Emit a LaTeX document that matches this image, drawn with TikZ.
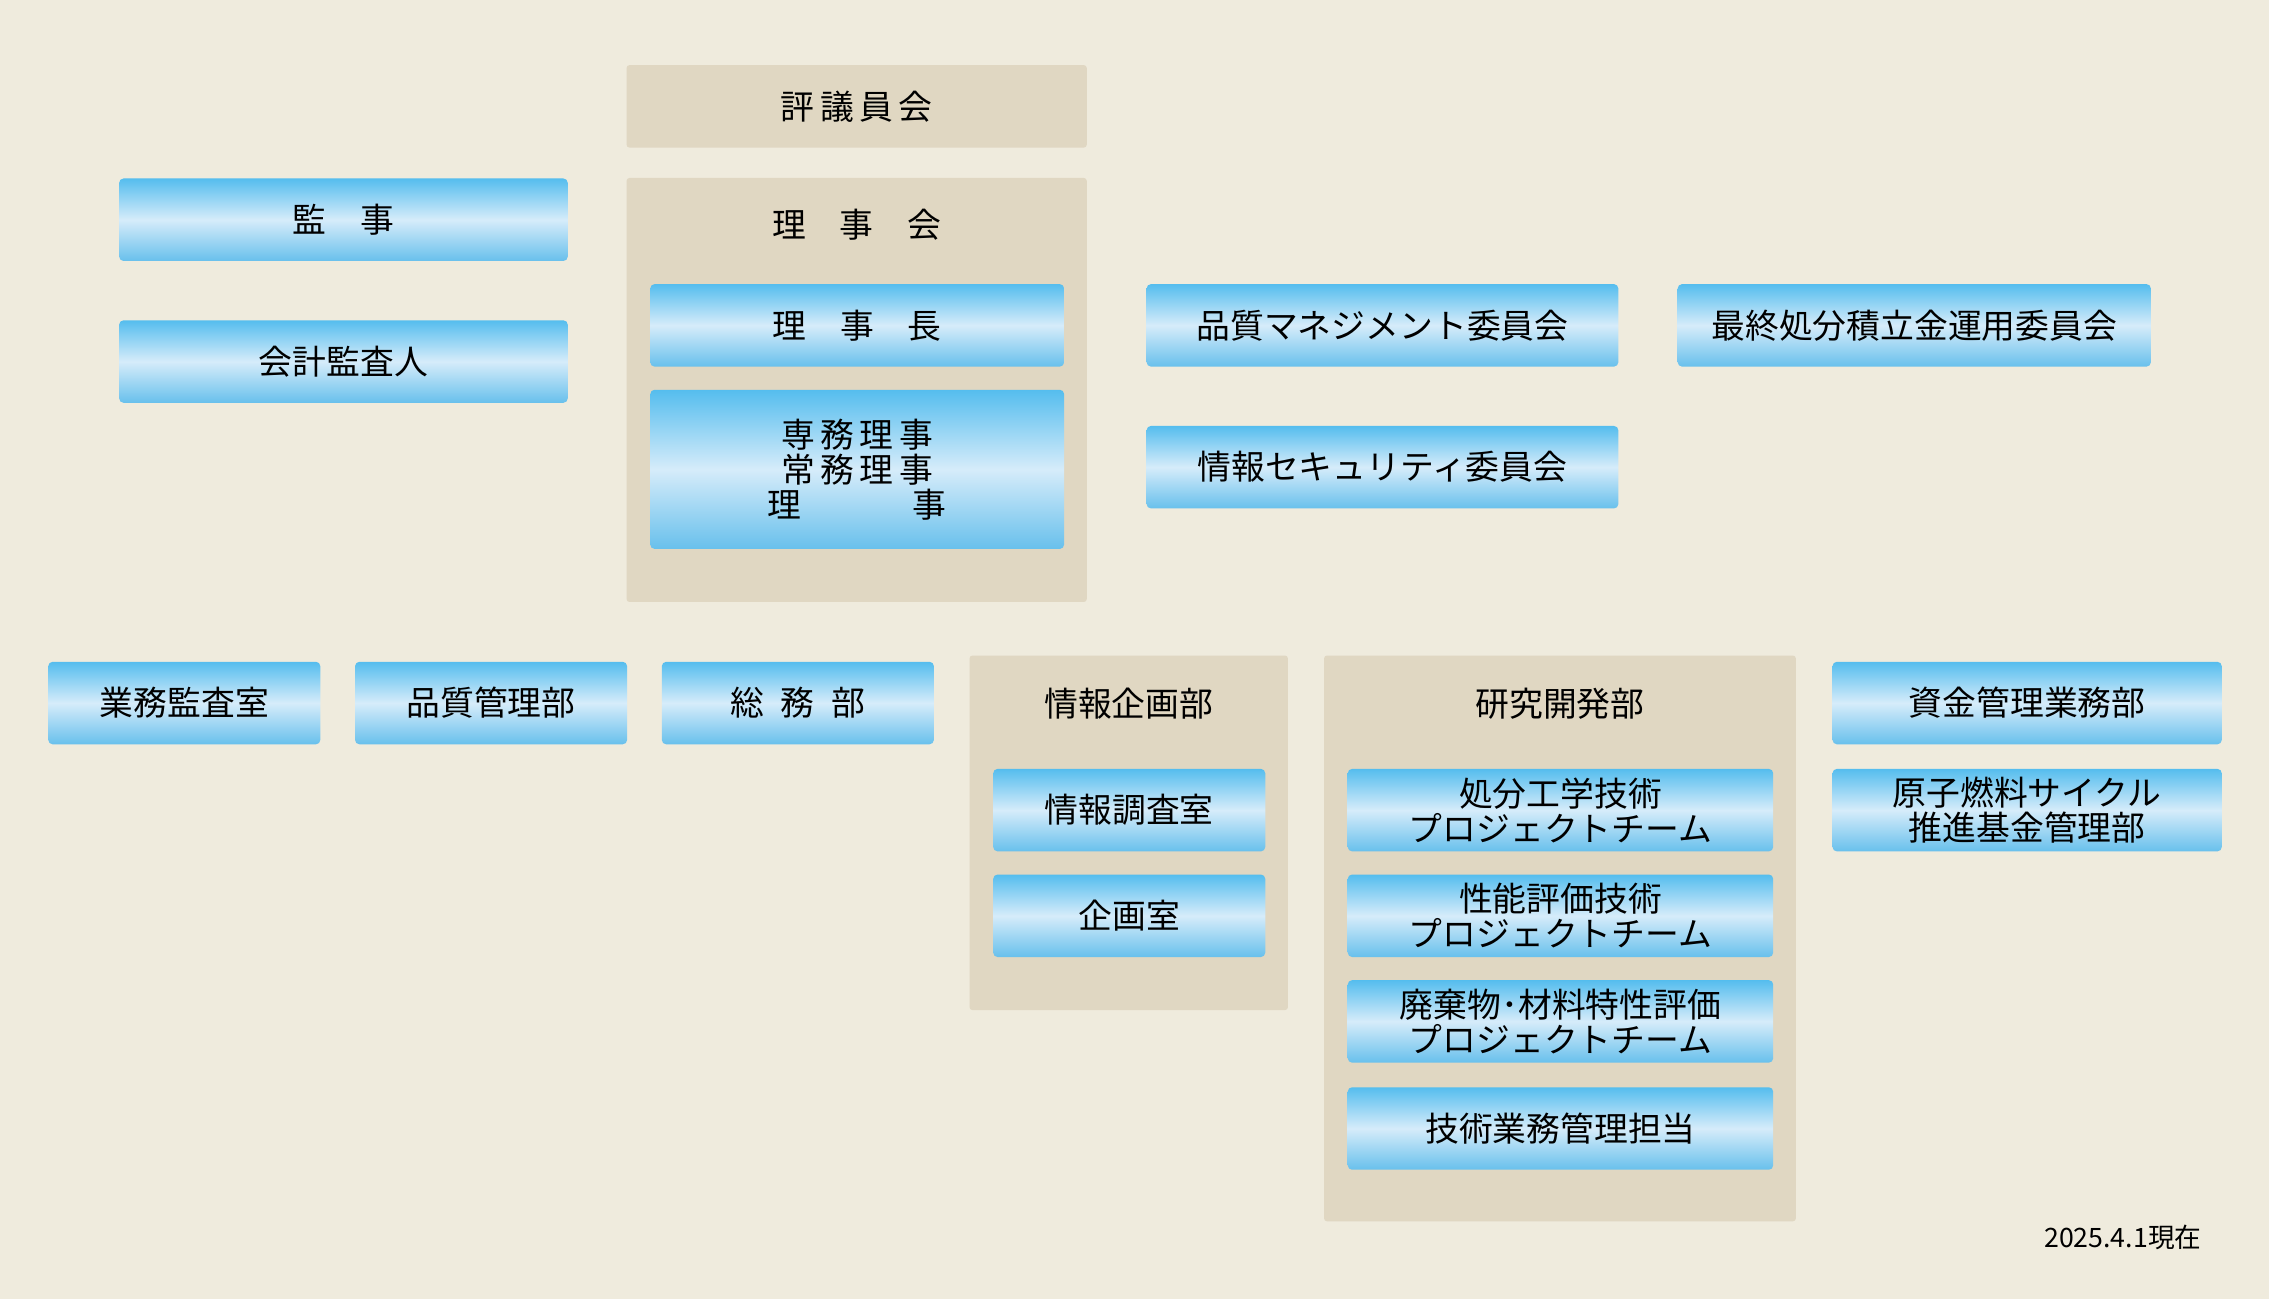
\documentclass[tikz,border=0pt]{standalone}
\usepackage{fontspec}
\setmainfont{Noto Sans CJK JP}
\definecolor{bgcol}{HTML}{EFEBDD}
\definecolor{panelcol}{HTML}{E0D7C2}
\definecolor{bluetop}{HTML}{55BDEE}
\definecolor{bluemid}{HTML}{D6ECFA}
\definecolor{bluebot}{HTML}{68C0EC}
\tikzset{
  unitbox/.style={rounded corners=0.06cm, top color=bluetop, bottom color=bluebot, middle color=bluemid,
    draw=none, inner sep=0pt, align=center, font=\fontsize{13.3}{13.8}\selectfont},
  panel/.style={fill=panelcol, rounded corners=0.04cm},
  ttl/.style={font=\fontsize{13.3}{14}\selectfont}
}
\newcommand{\ubox}[6]{\node[unitbox, minimum width=#4*0.02cm, minimum height=#5*0.02cm, anchor=north west] (#1) at (#2,#3) {#6};}
\begin{document}
\begin{tikzpicture}[x=0.02cm,y=-0.02cm]
    \fill[bgcol](0,0)rectangle(1568,898);
    % panels
    \fill[panel](433,45)rectangle(751,102);
    \node[ttl](hyogi)at(592,74){評\,議\,員\,会};
    \fill[panel](433,123)rectangle(751,416);
    \node[ttl](rijikai)at(592,155){理\quad 事\quad 会};
    \fill[panel](670,453)rectangle(890,698);
    \node[ttl](joho)at(780,486){情報企画部};
    \fill[panel](915,453)rectangle(1241,844);
    \node[ttl](kenkyu)at(1078,486){研究開発部};
    % boxes
    \ubox{kanji}{82}{123}{310}{57}{監\quad 事}
    \ubox{kaikei}{82}{221}{310}{57}{会計監査人}
    \ubox{rijicho}{449}{196}{286}{57}{理\quad 事\quad 長}
    \ubox{riji}{449}{269}{286}{110}{\fontsize{13.3}{16.4}\selectfont 専\,務\,理\,事\\常\,務\,理\,事\\理\hspace{3.3em}事}
    \ubox{hinshitsuiin}{792}{196}{326}{57}{品質マネジメント委員会}
    \ubox{saishu}{1159}{196}{327}{57}{最終処分積立金運用委員会}
    \ubox{security}{792}{294}{326}{57}{情報セキュリティ委員会}
    \ubox{kansa}{33}{457}{188}{57}{業務監査室}
    \ubox{hinshitsu}{245}{457}{188}{57}{品質管理部}
    \ubox{somu}{457}{457}{188}{57}{総\enspace 務\enspace 部}
    \ubox{chosa}{686}{531}{188}{57}{情報調査室}
    \ubox{kikaku}{686}{604}{188}{57}{企画室}
    \ubox{shobun}{931}{531}{294}{57}{処分工学技術\\プロジェクトチーム}
    \ubox{seino}{931}{604}{294}{57}{性能評価技術\\プロジェクトチーム}
    \ubox{haiki}{931}{677}{294}{57}{廃棄物･材料特性評価\\プロジェクトチーム}
    \ubox{gijutsu}{931}{751}{294}{57}{技術業務管理担当}
    \ubox{shikin}{1266}{457}{269}{57}{資金管理業務部}
    \ubox{genshi}{1266}{531}{269}{57}{原子燃料サイクル\\推進基金管理部}
    \node[font=\fontsize{10.5}{12}\selectfont](date)at(1467,855){2025.4.1現在};
\end{tikzpicture}
\end{document}
